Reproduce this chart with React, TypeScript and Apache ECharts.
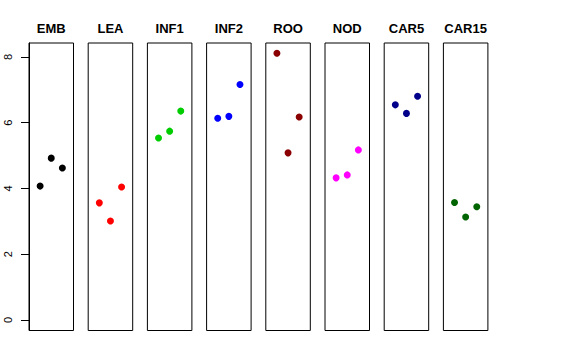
import React, { useEffect, useRef } from "react";
import * as echarts from "echarts";

const panels = ["EMB", "LEA", "INF1", "INF2", "ROO", "NOD", "CAR5", "CAR15"];
const colors = ["#000000", "#FF0000", "#00CD00", "#0000FF", "#8B0000", "#FF00FF", "#00008B", "#006400"];
const positions = [1, 2, 3];
const values = [
  [4.07, 4.92, 4.62],
  [3.56, 3.01, 4.04],
  [5.53, 5.74, 6.35],
  [6.13, 6.19, 7.16],
  [8.11, 5.08, 6.17],
  [4.32, 4.41, 5.17],
  [6.54, 6.28, 6.8],
  [3.57, 3.13, 3.44],
];
const yTicks = [0, 2, 4, 6, 8];

export default function App() {
  const ref = useRef<HTMLDivElement>(null);
  useEffect(() => {
    const chart = echarts.init(ref.current!, null, { renderer: "svg" });
    const left0 = 29;
    const step = 59.2;
    const w = 44.5;
    const top = 43;
    const h = 287.5;
    const ymin = -0.32;
    const ymax = 8.42;
    const font = "Liberation Sans, Arial, Helvetica, sans-serif";
    chart.setOption({
      animation: false,
      backgroundColor: "#ffffff",
      title: panels.map((p, i) => ({
        text: p,
        left: left0 + i * step + w / 2,
        top: 22,
        textAlign: "center",
        padding: 0,
        textStyle: { fontSize: 13, fontWeight: "bold", fontFamily: font, color: "#000" },
      })),
      grid: panels.map((_, i) => ({
        left: left0 + i * step,
        top,
        width: w,
        height: h,
        show: true,
        borderColor: "#000",
        borderWidth: 1,
        backgroundColor: "transparent",
      })),
      xAxis: panels.map((_, i) => ({
        type: "value",
        gridIndex: i,
        min: 0,
        max: 4,
        show: false,
      })),
      yAxis: panels.map((_, i) => ({
        type: "value",
        gridIndex: i,
        min: ymin,
        max: ymax,
        show: i === 0,
        splitLine: { show: false },
        axisLine: { show: true, lineStyle: { color: "#000", width: 1 } },
        axisTick: {
          show: true,
          length: 8,
          customValues: yTicks,
          lineStyle: { color: "#000", width: 1 },
        },
        axisLabel: {
          show: true,
          customValues: yTicks,
          rotate: 90,
          margin: 16,
          fontSize: 11,
          fontFamily: font,
          color: "#000",
        },
      })),
      series: panels.map((p, i) => ({
        type: "scatter",
        name: p,
        xAxisIndex: i,
        yAxisIndex: i,
        symbol: "circle",
        symbolSize: 7,
        itemStyle: { color: colors[i], opacity: 1 },
        data: positions.map((x, j) => [x, values[i][j]]),
      })),
    });
    return () => chart.dispose();
  }, []);
  return (
    <div
      ref={ref}
      style={{ position: "fixed", left: 0, top: 0, width: 576, height: 360 }}
    />
  );
}
